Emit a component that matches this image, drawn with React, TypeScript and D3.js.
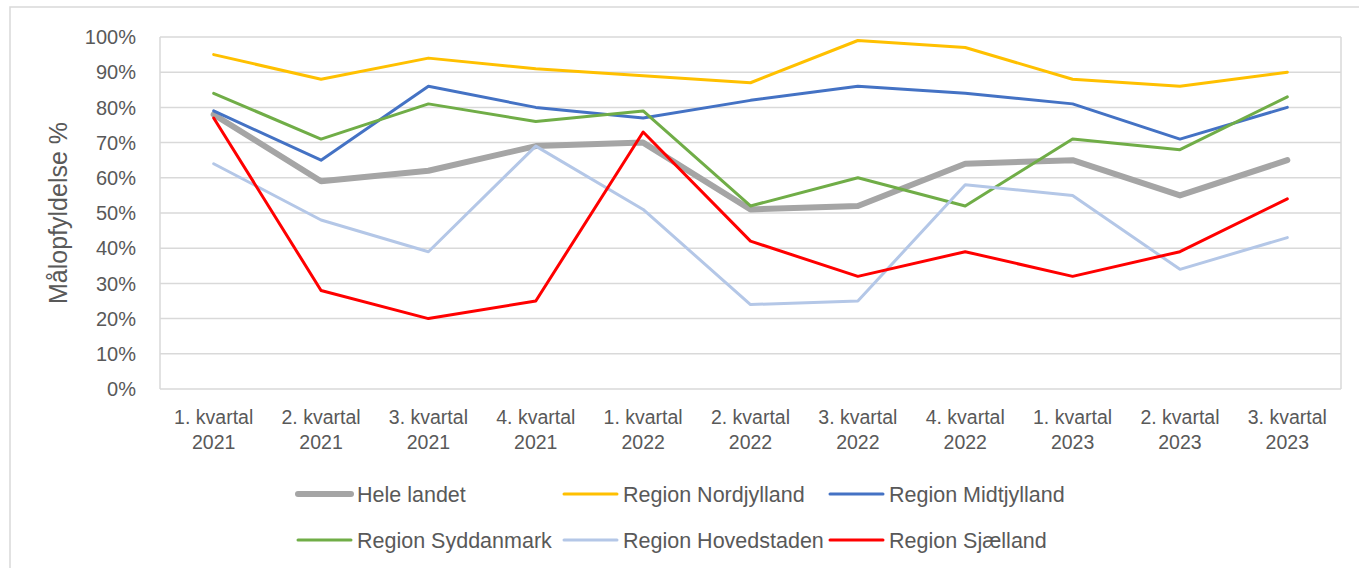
import React from "react";
import * as d3 from "d3";

const categories = [
  ["1. kvartal", "2021"],
  ["2. kvartal", "2021"],
  ["3. kvartal", "2021"],
  ["4. kvartal", "2021"],
  ["1. kvartal", "2022"],
  ["2. kvartal", "2022"],
  ["3. kvartal", "2022"],
  ["4. kvartal", "2022"],
  ["1. kvartal", "2023"],
  ["2. kvartal", "2023"],
  ["3. kvartal", "2023"],
];

const heleLandet = [78, 59, 62, 69, 70, 51, 52, 64, 65, 55, 65];
const nordjylland = [95, 88, 94, 91, 89, 87, 99, 97, 88, 86, 90];
const midtjylland = [79, 65, 86, 80, 77, 82, 86, 84, 81, 71, 80];
const syddanmark = [84, 71, 81, 76, 79, 52, 60, 52, 71, 68, 83];
const hovedstaden = [64, 48, 39, 69, 51, 24, 25, 58, 55, 34, 43];
const sjaelland = [77, 28, 20, 25, 73, 42, 32, 39, 32, 39, 54];

const yTicks = [0, 10, 20, 30, 40, 50, 60, 70, 80, 90, 100];

const series = [
  { name: "Hele landet", values: heleLandet, color: "#A5A5A5", width: 6 },
  { name: "Region Nordjylland", values: nordjylland, color: "#FFC000", width: 3 },
  { name: "Region Midtjylland", values: midtjylland, color: "#4472C4", width: 3 },
  { name: "Region Syddanmark", values: syddanmark, color: "#70AD47", width: 3 },
  { name: "Region Hovedstaden", values: hovedstaden, color: "#B4C7E7", width: 3 },
  { name: "Region Sjælland", values: sjaelland, color: "#FF0000", width: 3 },
];

const W = 1359;
const H = 568;
const plot = { left: 160, right: 1341, top: 37, bottom: 389 };
const FONT = "'Liberation Sans', Arial, sans-serif";
const TEXT = "#595959";
const GRID = "#D9D9D9";

export default function App() {
  const x = d3
    .scaleBand<number>()
    .domain(categories.map((_, i) => i))
    .range([plot.left, plot.right]);
  const y = d3.scaleLinear().domain([0, 100]).range([plot.bottom, plot.top]);
  const cx = (i: number) => (x(i) as number) + x.bandwidth() / 2;
  const line = d3
    .line<number>()
    .x((_, i) => cx(i))
    .y((d) => y(d));

  const legendCols = [298, 564, 830];
  const legendRows = [494, 540];

  return (
    <svg
      width={W}
      height={H}
      style={{ position: "absolute", left: 0, top: 0, background: "#fff" }}
    >
      <rect x={10} y={7} width={W + 20} height={H + 20} fill="#fff" stroke={GRID} strokeWidth={1.5} />
      {yTicks.map((t) => (
        <line
          key={"g" + t}
          x1={plot.left}
          x2={plot.right}
          y1={y(t)}
          y2={y(t)}
          stroke={GRID}
          strokeWidth={1.5}
        />
      ))}
      <line x1={plot.left} x2={plot.left} y1={plot.top} y2={plot.bottom} stroke={GRID} strokeWidth={1.5} />
      <line x1={plot.right} x2={plot.right} y1={plot.top} y2={plot.bottom} stroke={GRID} strokeWidth={1.5} />
      {yTicks.map((t) => (
        <text
          key={"t" + t}
          x={136}
          y={y(t)}
          dy="0.36em"
          textAnchor="end"
          fontFamily={FONT}
          fontSize={20}
          fill={TEXT}
        >
          {t}%
        </text>
      ))}
      <text
        transform={`translate(67,${(plot.top + plot.bottom) / 2}) rotate(-90)`}
        textAnchor="middle"
        fontFamily={FONT}
        fontSize={25}
        fill={TEXT}
      >
        Målopfyldelse %
      </text>
      {categories.map((c, i) => (
        <g key={"c" + i}>
          <text x={cx(i)} y={417} dy="0.36em" textAnchor="middle" fontFamily={FONT} fontSize={19.5} fill={TEXT}>
            {c[0]}
          </text>
          <text x={cx(i)} y={442} dy="0.36em" textAnchor="middle" fontFamily={FONT} fontSize={19.5} fill={TEXT}>
            {c[1]}
          </text>
        </g>
      ))}
      {series.map((s) => (
        <path
          key={s.name}
          d={line(s.values) || ""}
          fill="none"
          stroke={s.color}
          strokeWidth={s.width}
          strokeLinejoin="round"
          strokeLinecap="round"
        />
      ))}
      {series.map((s, i) => {
        const lx = legendCols[i % 3];
        const ly = legendRows[Math.floor(i / 3)];
        return (
          <g key={"l" + s.name}>
            <line
              x1={lx}
              x2={lx + 53}
              y1={ly}
              y2={ly}
              stroke={s.color}
              strokeWidth={s.width}
              strokeLinecap="round"
            />
            <text x={lx + 59} y={ly} dy="0.36em" fontFamily={FONT} fontSize={21.5} fill={TEXT}>
              {s.name}
            </text>
          </g>
        );
      })}
    </svg>
  );
}
